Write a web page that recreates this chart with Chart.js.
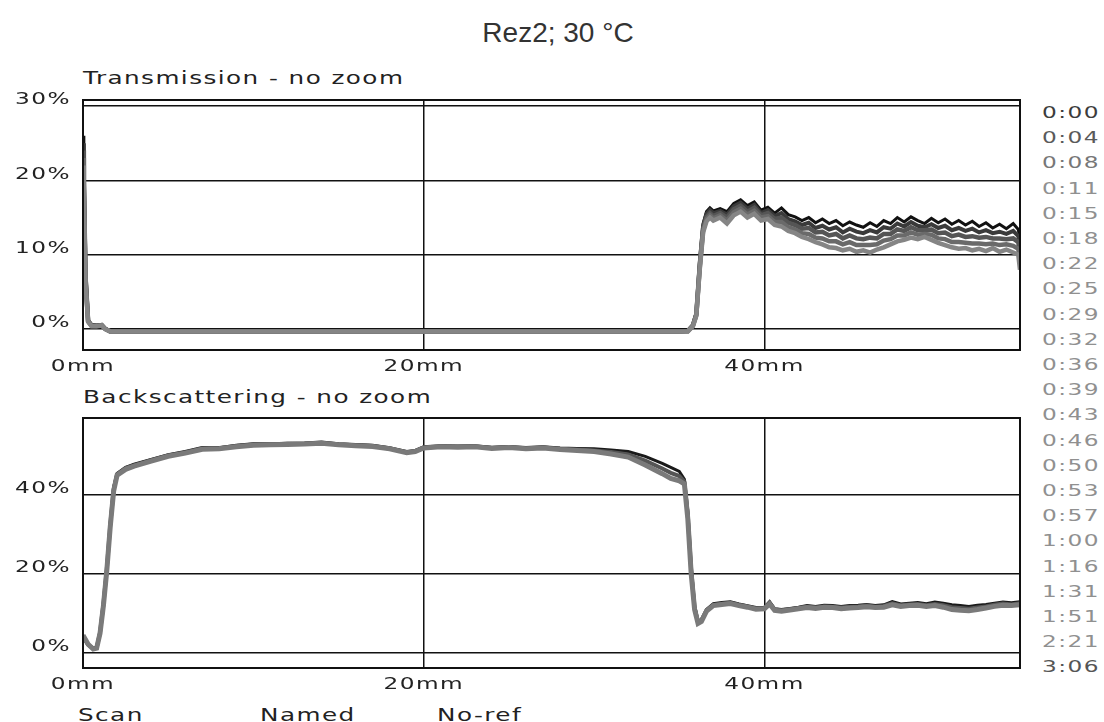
<!DOCTYPE html>
<html>
<head>
<meta charset="utf-8">
<script src="https://cdn.jsdelivr.net/npm/chart.js@4.4.1/dist/chart.umd.min.js"></script>
<style>
  body { margin: 0; background: #fff; width: 1104px; height: 722px; position: relative; overflow: hidden; }
  canvas { position: absolute; left: 0; }
  .t { position: absolute; white-space: nowrap; font-family: "DejaVu Sans"; font-size: 17px; letter-spacing: 1px; color: #222; transform-origin: 0 50%; transform: scaleX(1.45); line-height: 20px; }
  #title { position: absolute; left: 0; width: 1116px; text-align: center; top: 17px; font-family: "Liberation Sans"; font-size: 28px; color: #333; line-height: 32px; }
</style>
</head>
<body>
<div id="title">Rez2; 30 °C</div>
<div class="t" style="left:83px; top:68px;">Transmission - no zoom</div>
<div class="t" style="left:83px; top:387px;">Backscattering - no zoom</div>
<div class="t" style="left:78px; top:705px;">Scan</div>
<div class="t" style="left:260px; top:705px;">Named</div>
<div class="t" style="left:437px; top:705px;">No-ref</div>
<div id="legend"></div>
<canvas id="trans" width="1104" height="320" style="top:60px"></canvas>
<canvas id="back" width="1104" height="320" style="top:380px"></canvas>
<script>
// scan times shown at the right
const scanTimes = ['0:00','0:04','0:08','0:11','0:15','0:18','0:22','0:25','0:29','0:32','0:36','0:39',
  '0:43','0:46','0:50','0:53','0:57','1:00','1:16','1:31','1:51','2:21','3:06'];

// Transmission (%) vs height (mm)
const tPos = [0, 0.05, 0.15, 0.3, 0.5, 0.8, 1.1, 1.3, 1.6, 5, 10, 15, 20, 25, 30, 35, 35.5, 35.8, 36.0, 36.2, 36.4, 36.6, 36.8, 37.0,
  37.4, 37.8, 38.2, 38.6, 39.0, 39.4, 39.8, 40.2, 40.6, 41.0, 41.4, 41.8, 42.2, 42.6, 43.0, 43.4, 43.8, 44.2, 44.6, 45.0,
  45.4, 45.8, 46.2, 46.6, 47.0, 47.4, 47.8, 48.2, 48.6, 49.0, 49.4, 49.8, 50.2, 50.6, 51.0, 51.4, 51.8, 52.2, 52.6, 53.0,
  53.4, 53.8, 54.2, 54.6, 54.9, 55.0];
const tScan0000 = [26, 22, 8, 1.2, 0.6, 0.5, 0.6, 0.1, -0.3, -0.3, -0.3, -0.3, -0.3, -0.3, -0.3, -0.3, -0.2, 0.6, 2.2, 9.0, 14.2, 15.8, 16.3, 15.9,
  16.2, 15.8, 16.9, 17.4, 16.6, 17.1, 16.0, 16.4, 15.6, 16.3, 15.4, 15.1, 14.6, 15.0, 14.3, 14.8, 14.2, 14.6, 13.9, 14.4,
  14.0, 13.7, 14.3, 13.8, 14.6, 14.2, 15.0, 14.4, 15.1, 14.6, 14.2, 14.9, 14.3, 14.8, 14.1, 14.6, 14.0, 14.5, 13.8, 14.3,
  13.6, 14.1, 13.5, 14.2, 13.4, 12.0];
const tScan0022 = [25, 21, 7.5, 1.15, 0.55, 0.48, 0.58, 0.08, -0.3, -0.3, -0.3, -0.3, -0.3, -0.3, -0.3, -0.3, -0.22, 0.55, 2.1, 8.8, 13.9, 15.5, 16.0, 15.6,
  15.9, 15.4, 16.5, 17.0, 16.2, 16.7, 15.6, 16.0, 15.2, 15.6, 14.8, 14.5, 14.0, 14.3, 13.6, 13.9, 13.4, 13.7, 13.0, 13.5,
  13.1, 12.9, 13.3, 13.0, 13.7, 13.5, 14.2, 13.8, 14.4, 13.9, 13.7, 14.1, 13.6, 13.9, 13.3, 13.6, 13.2, 13.5, 13.0, 13.3,
  12.9, 13.1, 12.8, 13.2, 12.5, 11.0];
const tScan0100 = [24, 20, 7, 1.1, 0.5, 0.45, 0.55, 0.05, -0.3, -0.3, -0.3, -0.3, -0.3, -0.3, -0.3, -0.3, -0.25, 0.5, 2.0, 8.5, 13.6, 15.1, 15.6, 15.2,
  15.6, 15.0, 16.1, 16.6, 15.8, 16.3, 15.3, 15.6, 14.8, 15.0, 14.3, 14.0, 13.5, 13.6, 13.0, 13.1, 12.6, 12.8, 12.2, 12.6,
  12.2, 12.1, 12.3, 12.2, 12.8, 12.8, 13.4, 13.2, 13.7, 13.3, 13.3, 13.4, 12.9, 13.0, 12.5, 12.7, 12.4, 12.5, 12.3, 12.4,
  12.2, 12.2, 12.1, 12.2, 11.7, 10.0];
const tScan0151 = [23, 19, 6.5, 1.05, 0.45, 0.42, 0.52, 0.02, -0.3, -0.3, -0.3, -0.3, -0.3, -0.3, -0.3, -0.3, -0.28, 0.45, 1.9, 8.2, 13.3, 14.8, 15.3, 14.9,
  15.3, 14.6, 15.7, 16.2, 15.4, 15.9, 15.0, 15.2, 14.4, 14.4, 13.7, 13.4, 12.9, 12.8, 12.3, 12.2, 11.8, 11.8, 11.4, 11.7,
  11.3, 11.3, 11.3, 11.4, 11.9, 12.1, 12.6, 12.6, 13.0, 12.7, 12.8, 12.7, 12.2, 12.1, 11.7, 11.7, 11.6, 11.5, 11.5, 11.4,
  11.5, 11.3, 11.4, 11.2, 10.8, 9.0];
const tScan0306 = [22, 18, 6, 1.0, 0.4, 0.4, 0.5, 0.0, -0.3, -0.3, -0.3, -0.3, -0.3, -0.3, -0.3, -0.3, -0.3, 0.4, 1.8, 8.0, 13.0, 14.5, 15.0, 14.6,
  15.0, 14.2, 15.3, 15.8, 15.0, 15.5, 14.6, 14.8, 14.0, 13.8, 13.2, 12.9, 12.4, 12.1, 11.7, 11.4, 11.0, 10.9, 10.6, 10.8,
  10.4, 10.6, 10.3, 10.7, 11.0, 11.4, 11.8, 12.0, 12.3, 12.1, 12.4, 12.0, 11.6, 11.3, 11.0, 10.8, 10.9, 10.6, 10.8, 10.5,
  10.9, 10.4, 10.7, 10.3, 10.0, 8.0];

// Backscattering (%) vs height (mm)
const bPos = [0, 0.3, 0.6, 0.8, 1.0, 1.2, 1.4, 1.6, 1.8, 2.0, 2.5, 3, 4, 5, 6, 7, 8, 9, 10, 11, 12, 13, 14, 15, 16, 17, 18,
  19, 19.5, 20, 21, 22, 23, 24, 25, 26, 27, 28, 29, 30, 31, 32, 33, 34,
  34.5, 35, 35.3, 35.5, 35.7, 35.9, 36.1, 36.3, 36.6, 37, 37.5, 38, 38.5, 39, 39.5, 40, 40.3, 40.6,
  41, 41.5, 42, 42.5, 43, 43.5, 44, 44.5, 45, 45.5, 46, 46.5, 47, 47.5, 48, 48.5, 49, 49.5, 50, 50.5,
  51, 51.5, 52, 52.5, 53, 53.5, 54, 54.5, 55];
const bScan0000 = [4.0, 2.0, 1.2, 1.5, 5.5, 13, 22, 33, 42, 45.5, 47, 47.8,
  49, 50.2, 51, 52, 52, 52.6, 53, 53, 53.1, 53.2, 53.4, 53, 52.8, 52.6, 52.0,
  51.0, 51.3, 52.2, 52.5, 52.4, 52.5, 52.1, 52.3, 52.0, 52.2, 51.9, 51.8, 51.7, 51.4, 51.0, 49.8, 48.0,
  47.0, 46.0, 44.0, 36, 22, 12, 8.0, 8.5, 11, 12.5, 12.8, 13.0, 12.4, 12.0, 11.5, 11.6, 13.0, 11.2,
  11.0, 11.3, 11.6, 12.0, 11.8, 12.1, 12.0, 11.8, 12.0, 12.1, 12.3, 12.0, 12.2, 13.0, 12.4, 12.6, 12.8, 12.5, 12.9, 12.6,
  12.2, 12.0, 11.8, 12.1, 12.3, 12.6, 12.9, 12.7, 13.0];
const bScan0100 = [4.2, 2.1, 1.1, 1.3, 5.2, 12.5, 21.5, 32.5, 41.5, 45.2, 46.8, 47.5,
  48.8, 50.0, 50.8, 51.8, 51.9, 52.4, 52.8, 52.8, 53.0, 53.0, 53.2, 52.8, 52.6, 52.4, 51.8,
  50.8, 51.1, 52.0, 52.3, 52.2, 52.3, 51.9, 52.1, 51.8, 52.0, 51.7, 51.5, 51.3, 50.9, 50.3, 48.7, 46.7,
  45.6, 44.8, 43.4, 35, 21, 11.5, 7.8, 8.2, 10.8, 12.2, 12.5, 12.7, 12.2, 11.8, 11.3, 11.4, 12.7, 11.0,
  10.8, 11.1, 11.4, 11.7, 11.5, 11.8, 11.7, 11.5, 11.7, 11.8, 12.0, 11.7, 11.9, 12.6, 12.1, 12.3, 12.4, 12.1, 12.4, 12.1,
  11.6, 11.4, 11.2, 11.5, 11.8, 12.2, 12.5, 12.3, 12.6];
const bScan0306 = [4.5, 2.2, 1.0, 1.2, 5.0, 12, 21, 32, 41, 45, 46.5, 47.3,
  48.6, 49.8, 50.6, 51.6, 51.7, 52.2, 52.6, 52.7, 52.8, 52.9, 53.1, 52.7, 52.5, 52.3, 51.7,
  50.7, 51.0, 51.9, 52.2, 52.1, 52.2, 51.8, 52.0, 51.7, 51.9, 51.5, 51.3, 51.0, 50.4, 49.6, 47.6, 45.4,
  44.2, 43.6, 42.8, 34, 20, 11, 7.5, 8.0, 10.6, 12.0, 12.3, 12.5, 12.0, 11.6, 11.1, 11.2, 12.4, 10.8,
  10.6, 10.9, 11.2, 11.5, 11.3, 11.6, 11.5, 11.2, 11.4, 11.5, 11.7, 11.5, 11.6, 12.2, 11.8, 12.0, 12.1, 11.8, 12.0, 11.6,
  11.0, 10.8, 10.7, 11.0, 11.4, 11.8, 12.1, 12.0, 12.2];

// legend column
const legend = document.getElementById('legend');
scanTimes.forEach((s, i) => {
  const d = document.createElement('div');
  d.className = 't';
  d.textContent = s;
  d.style.fontSize = '16px';
  d.style.left = '1042px';
  d.style.top = (103 + i * 25.2) + 'px';
  let c = '#909090';
  if (i === 0) c = '#3c3c3c';
  else if (i === 1) c = '#5a5a5a';
  else if (i === 2) c = '#777';
  else if (i === scanTimes.length - 1) c = '#555';
  d.style.color = c;
  legend.appendChild(d);
});

const pts = (xs, ys) => xs.map((x, i) => ({ x: x, y: ys[i] }));

// the tick text in the original is a wide, stretched font
function stretchText(canvas, k) {
  const ctx = canvas.getContext('2d');
  const orig = ctx.fillText;
  ctx.fillText = function (text, x, y, maxW) {
    this.save();
    this.translate(x, y);
    this.scale(k, 1);
    if (maxW === undefined) orig.call(this, text, 0, 0);
    else orig.call(this, text, 0, 0, maxW / k);
    this.restore();
  };
  return canvas;
}

const frame = {
  id: 'frame',
  beforeDraw(chart) { chart.ctx.letterSpacing = '1px'; },
  afterDatasetsDraw(chart) {
    const a = chart.chartArea, ctx = chart.ctx;
    ctx.save();
    ctx.strokeStyle = '#111';
    ctx.lineWidth = 2;
    ctx.strokeRect(a.left, a.top, a.right - a.left, a.bottom - a.top);
    ctx.restore();
  }
};

const tickFont = { family: 'DejaVu Sans', size: 16 };

function makeChart(el, sets, yMin, yMax, yStep, padTop, xHeight) {
  return new Chart(stretchText(el, 1.45), {
    type: 'line',
    data: {
      datasets: sets.map(s => ({
        label: s.label,
        data: s.data,
        borderColor: s.color,
        borderWidth: s.width,
        pointRadius: 0,
        tension: 0,
        fill: false
      }))
    },
    options: {
      responsive: false,
      animation: false,
      layout: { padding: { top: padTop, right: 84, left: 0, bottom: 0 } },
      plugins: { legend: { display: false }, tooltip: { enabled: false } },
      scales: {
        x: {
          type: 'linear', min: 0, max: 55,
          afterFit(s) { s.height = xHeight; },
          border: { display: false },
          grid: { color: '#111', lineWidth: 1.5, drawTicks: false },
          ticks: { stepSize: 20, includeBounds: false, maxRotation: 0, autoSkip: false,
            padding: 7, color: '#222', font: tickFont, callback: v => v + 'mm' }
        },
        y: {
          min: yMin, max: yMax,
          afterFit(s) { s.width = 83; },
          border: { display: false },
          grid: { color: '#111', lineWidth: 1.5, drawTicks: false },
          ticks: { stepSize: yStep, includeBounds: false, padding: 12, labelOffset: -6,
            color: '#222', font: tickFont, callback: v => v + '%' }
        }
      }
    },
    plugins: [frame]
  });
}

makeChart(document.getElementById('trans'), [
  { label: '3:06', data: pts(tPos, tScan0306), color: '#858585', width: 4.5 },
  { label: '1:51', data: pts(tPos, tScan0151), color: '#6a6a6a', width: 4.5 },
  { label: '1:00', data: pts(tPos, tScan0100), color: '#555', width: 4.5 },
  { label: '0:22', data: pts(tPos, tScan0022), color: '#3a3a3a', width: 4 },
  { label: '0:00', data: pts(tPos, tScan0000), color: '#111', width: 3 }
], -2.8, 30.8, 10, 40, 30);

makeChart(document.getElementById('back'), [
  { label: '3:06', data: pts(bPos, bScan0306), color: '#7a7a7a', width: 5 },
  { label: '1:00', data: pts(bPos, bScan0100), color: '#555', width: 4 },
  { label: '0:00', data: pts(bPos, bScan0000), color: '#1a1a1a', width: 3 }
], -3.8, 59.5, 20, 38, 32);
</script>
</body>
</html>
